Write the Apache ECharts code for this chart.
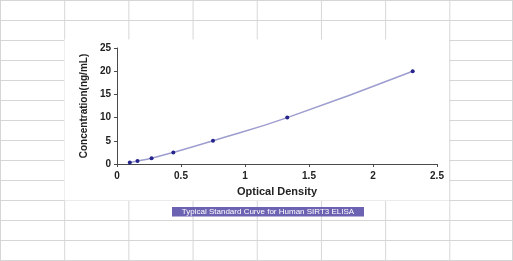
<!DOCTYPE html>
<html>
<head>
<meta charset="utf-8">
<script src="https://cdn.jsdelivr.net/npm/echarts@6/dist/echarts.min.js"></script>
<style>
  html, body { margin: 0; padding: 0; background: #fff; }
  #wrap {
    position: relative; width: 513px; height: 261px; overflow: hidden;
    background-color: #fff;
    background-image:
      linear-gradient(to right, #d6d6d6 1px, transparent 1px),
      linear-gradient(to bottom, #d6d6d6 1px, transparent 1px);
    background-size: 64.2px 20px, 64.2px 20px;
    background-position: 0 0, 0 0;
    box-sizing: border-box;
    border-right: 1px solid #d6d6d6; border-bottom: 1px solid #d6d6d6;
  }
  #chart { position: absolute; left: 0; top: 0; width: 513px; height: 261px; }
</style>
</head>
<body>
<div id="wrap"><div id="chart"></div></div>
<script>
const odValues = [0.10, 0.16, 0.27, 0.44, 0.75, 1.33, 2.31];
const concValues = [0.31, 0.625, 1.25, 2.5, 5, 10, 20];
const xTitle = 'Optical Density';
const yTitle = 'Concentration(ng/mL)';
const caption = 'Typical Standard Curve for Human SIRT3 ELISA';

const points = odValues.map((v, i) => [v, concValues[i]]);
const chart = echarts.init(document.getElementById('chart'), null, { renderer: 'canvas' });
const axisTxt = { color: '#222222', fontFamily: 'Liberation Sans', fontWeight: 'bold', fontSize: 10 };
chart.setOption({
  backgroundColor: 'transparent',
  animation: false,
  graphic: [
    { type: 'rect', z: -10, shape: { x: 64.5, y: 39.5, width: 384.5, height: 161 }, style: { fill: '#ffffff' } },
    { type: 'rect', z: 10, shape: { x: 172, y: 207, width: 192, height: 9.5 }, style: { fill: '#6c62b2' } },
    { type: 'text', z: 11, x: 268, y: 211.8, style: { text: caption, fill: '#ffffff', font: '8px "Liberation Sans"', align: 'center', verticalAlign: 'middle' } }
  ],
  grid: { left: 117, right: 76, top: 48, bottom: 97 },
  xAxis: {
    type: 'value', min: 0, max: 2.5, interval: 0.5,
    name: xTitle, nameLocation: 'middle', nameGap: 22,
    nameTextStyle: { color: '#222222', fontFamily: 'Liberation Sans', fontWeight: 'bold', fontSize: 11 },
    axisLine: { show: true, lineStyle: { color: '#4a4a4a', width: 1 } },
    axisTick: { show: true, length: 3, lineStyle: { color: '#4a4a4a' } },
    axisLabel: Object.assign({ margin: 7 }, axisTxt),
    splitLine: { show: false }
  },
  yAxis: {
    type: 'value', min: 0, max: 25, interval: 5,
    name: yTitle, nameLocation: 'middle', nameGap: 26, nameRotate: 90,
    nameTextStyle: { color: '#222222', fontFamily: 'Liberation Sans', fontWeight: 'bold', fontSize: 10 },
    axisLine: { show: true, lineStyle: { color: '#4a4a4a', width: 1 } },
    axisTick: { show: true, length: 3, lineStyle: { color: '#4a4a4a' } },
    axisLabel: Object.assign({ margin: 6 }, axisTxt),
    splitLine: { show: false }
  },
  series: [{
    type: 'line', data: points, smooth: true,
    symbol: 'circle', symbolSize: 4,
    lineStyle: { color: '#9d9dcf', width: 1.5 },
    itemStyle: { color: '#24248c' }
  }]
});
</script>
</body>
</html>
